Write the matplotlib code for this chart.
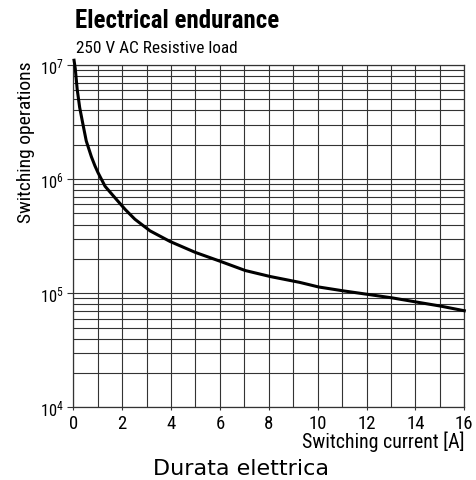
import matplotlib
matplotlib.use("Agg")
import matplotlib.pyplot as plt
from matplotlib.ticker import LogLocator, NullFormatter, FixedLocator

# curve (current in A, switching operations)
current = [0.03, 0.08, 0.16, 0.26, 0.40, 0.53, 0.74, 0.89, 1.01, 1.3, 1.71, 2.12,
           2.52, 3.14, 3.96, 4.99, 6.01, 7.04, 8.06, 9.26, 10.04, 11.07, 12.09,
           13.05, 14.07, 15.03, 16.0]
operations = [1.1e7, 9.3e6, 6.1e6, 4.25e6, 2.98e6, 2.16e6, 1.57e6, 1.3e6, 1.14e6,
              8.65e5, 6.84e5, 5.43e5, 4.45e5, 3.52e5, 2.84e5, 2.28e5, 1.905e5,
              1.58e5, 1.40e5, 1.245e5, 1.134e5, 1.047e5, 9.74e4, 9.1e4, 8.35e4,
              7.71e4, 7.02e4]

x_ticks = [0, 2, 4, 6, 8, 10, 12, 14, 16]
y_ticks = [1e4, 1e5, 1e6, 1e7]
y_tick_labels = [r"$10^4$", r"$10^5$", r"$10^6$", r"$10^7$"]

title = "Electrical endurance"
subtitle = "250 V AC Resistive load"
x_label = "Switching current [A]"
y_label = "Switching operations"
caption = "Durata elettrica"

cond = ["Roboto Condensed", "DejaVu Sans"]
plt.rcParams["font.family"] = cond
plt.rcParams["mathtext.fontset"] = "custom"
plt.rcParams["mathtext.rm"] = "Roboto Condensed"
plt.rcParams["mathtext.it"] = "Roboto Condensed"

grid_col = "#333333"

fig = plt.figure(figsize=(4.76, 4.81), dpi=100)
ax = fig.add_axes([0.154, 0.1511, 0.8214, 0.7117])

ax.set_yscale("log")
ax.plot(current, operations, color="black", lw=2.2, clip_on=False, zorder=5)

ax.set_xlim(0, 16)
ax.set_ylim(1e4, 1e7)

ax.xaxis.set_major_locator(FixedLocator(x_ticks))
ax.xaxis.set_minor_locator(FixedLocator(range(0, 17)))
ax.yaxis.set_major_locator(FixedLocator(y_ticks))
ax.yaxis.set_minor_locator(LogLocator(base=10, subs=range(2, 10)))
ax.yaxis.set_minor_formatter(NullFormatter())
ax.set_yticklabels(y_tick_labels)

ax.grid(True, which="both", color=grid_col, lw=0.8)
ax.set_axisbelow(True)
for s in ax.spines.values():
    s.set_color(grid_col)
    s.set_linewidth(0.9)

ax.tick_params(axis="x", which="major", length=2.5, width=0.8, color=grid_col,
               labelsize=13.5, pad=2.5)
ax.tick_params(axis="x", which="minor", length=0)
ax.tick_params(axis="y", which="major", length=4, width=0.8, color=grid_col,
               labelsize=12, pad=3)
ax.tick_params(axis="y", which="minor", length=0)

fig.text(0.0546, 0.7037, y_label, rotation=90, ha="center", va="center", fontsize=14)
fig.text(0.9754, 1 - 448 / 481, x_label, ha="right", va="baseline", fontsize=14.3)

fig.text(0.158, 1 - 28 / 481, title, fontsize=18, fontweight="bold", va="baseline", ha="left")
fig.text(0.160, 1 - 53 / 481, subtitle, fontsize=12.4, va="baseline", ha="left")
fig.text(0.506, 1 - 475 / 481, caption, fontsize=16, va="baseline", ha="center",
         family=["DejaVu Sans"])

fig.savefig("out.png", dpi=100)
